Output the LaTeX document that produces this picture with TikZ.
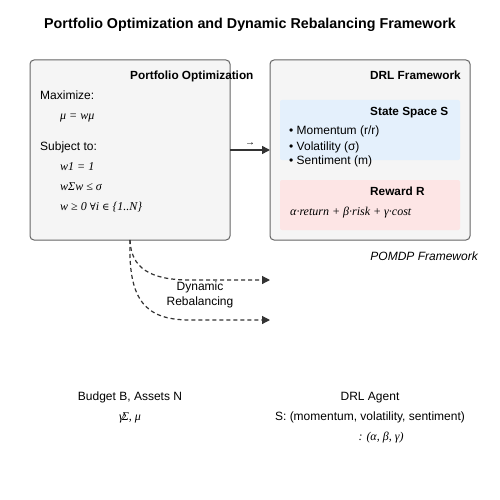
\documentclass[tikz,border=0pt]{standalone}
\usepackage{fontspec}
\setmainfont{Liberation Sans}
\newfontfamily\frmfont{Liberation Serif}
\newfontfamily\symfont{DejaVu Serif}
\usetikzlibrary{arrows.meta}
\definecolor{boxfill}{HTML}{F5F5F5}
\definecolor{boxline}{HTML}{666666}
\definecolor{bluefill}{HTML}{E4F0FC}
\definecolor{pinkfill}{HTML}{FDE5E5}
\tikzset{
  panel/.style={draw=boxline, fill=boxfill, rounded corners=4pt, line width=1pt},
  subpanel/.style={draw=none, rounded corners=2pt},
  lbl/.style={anchor=base west, inner sep=0pt, font=\fontsize{12}{14}\selectfont},
  hdr/.style={anchor=base west, inner sep=0pt, font=\fontsize{11.8}{14}\selectfont\bfseries},
  frm/.style={anchor=base west, inner sep=0pt, font=\fontsize{12}{14}\selectfont\frmfont\itshape},
  ctr/.style={anchor=base, inner sep=0pt, font=\fontsize{12}{14}\selectfont},
  conn/.style={draw=black!80, line width=1.5pt, -{Triangle[length=8pt,width=8pt]}},
  dconn/.style={draw=black!80, line width=1.2pt, dashed, dash pattern=on 4pt off 3pt, -{Triangle[length=8pt,width=8pt]}},
}
\begin{document}
\begin{tikzpicture}[x=1pt,y=-1pt]
\useasboundingbox (0,0) rectangle (500,500);
\fill[white] (0,0) rectangle (500,500);
\node[anchor=base, inner sep=0pt, font=\fontsize{14.3}{16}\selectfont\bfseries] (title) at (250,29) {Portfolio Optimization and Dynamic Rebalancing Framework};

% left panel
\draw[panel] (30,60) rectangle (230,240);
\node[inner sep=0pt, minimum width=200pt, minimum height=180pt, anchor=north west] (po) at (30,60) {};
\node[hdr] (poh) at (130,80) {Portfolio Optimization};
\node[lbl] (max) at (40,100) {Maximize:};
\node[frm] (f1) at (60,120) {μ = wμ};
\node[lbl] (sub) at (40,150) {Subject to:};
\node[frm] (f2) at (60,170) {w1 = 1};
\node[frm] (f3) at (60,190) {wΣw ≤ σ};
\node[frm] (f4) at (60,210) {w ≥ 0 {\symfont\fontsize{10}{12}\selectfont ∀}i {\symfont\fontsize{10}{12}\selectfont ∈} \{1..N\}};

% right panel
\draw[panel] (270,60) rectangle (470,240);
\node[inner sep=0pt, minimum width=200pt, minimum height=180pt, anchor=north west] (drl) at (270,60) {};
\node[hdr] (drlh) at (370,80) {DRL Framework};
\fill[bluefill, subpanel] (280,100) rectangle (460,160);
\node[hdr] (ssh) at (370,115) {State Space S};
\node[lbl] (b1) at (289,135) {• Momentum (r/r)};
\node[lbl] (b2) at (289,150) {• Volatility (σ)};
\node[lbl] (b3) at (289,164) {• Sentiment (m)};
\fill[pinkfill, subpanel] (280,180) rectangle (460,230);
\node[hdr] (rwh) at (370,195) {Reward R};
\node[frm] (rw) at (290,215) {α·return + β·risk + γ·cost};
\node[anchor=base east, inner sep=0pt, font=\fontsize{12}{14}\selectfont\itshape] (pomdp) at (478,260) {POMDP Framework};

% connector
\coordinate (a1) at (230,150);
\coordinate (a2) at (270,150);
\draw[conn] (a1) -- (a2);
\node[anchor=base, inner sep=0pt, font=\fontsize{10}{12}\selectfont] (arr) at (250,145) {→};

% dashed curves
\coordinate (d0) at (130,240);
\coordinate (d1) at (270,280);
\coordinate (d2) at (270,320);
\draw[dconn] (d0) .. controls (131,268) and (150,280) .. (190,280) -- (d1);
\draw[dconn] (d0) .. controls (128,300) and (145,320) .. (190,320) -- (d2);
\node[ctr] (dyn1) at (200,290) {Dynamic};
\node[ctr] (dyn2) at (200,305) {Rebalancing};

% bottom texts
\node[ctr] (bud) at (130,400) {Budget B, Assets N};
\node[anchor=base, inner sep=0pt, font=\fontsize{12}{14}\selectfont\frmfont\itshape] (gs) at (130,420) {γ\kern-2ptΣ, μ};
\node[ctr] (agent) at (370,400) {DRL Agent};
\node[ctr] (sm) at (370,420) {S: (momentum, volatility, sentiment)};
\node[anchor=base, inner sep=0pt, font=\fontsize{12}{14}\selectfont\frmfont\itshape] (ab) at (381,440) {: (α, β, γ)};
\end{tikzpicture}
\end{document}
